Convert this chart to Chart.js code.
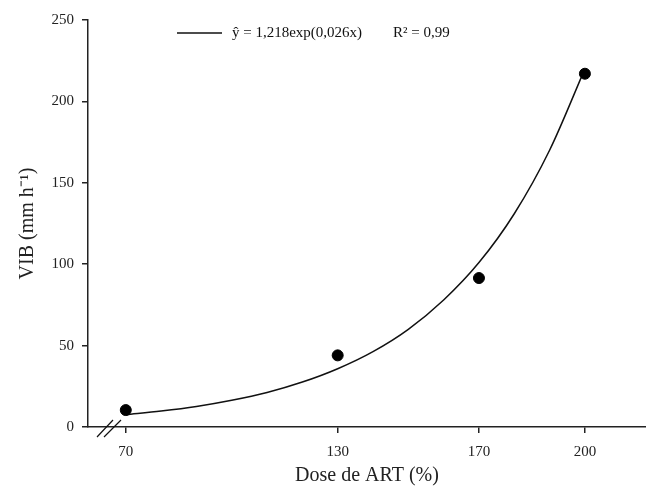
<!DOCTYPE html>
<html>
<head>
<meta charset="utf-8">
<script src="https://cdn.jsdelivr.net/npm/chart.js@4.4.1/dist/chart.umd.min.js"></script>
<style>
  html, body { margin: 0; padding: 0; background: #fff; }
  #wrap { width: 646px; height: 492px; }
</style>
</head>
<body>
<div id="wrap"><canvas id="vibChart"></canvas></div>
<script>
// observed values
const doses = [70, 130, 170, 200];
const vib = [10.4, 44, 91.5, 217];

// fitted curve
const fitX = [70, 80, 90, 100, 110, 120, 130, 140, 150, 160, 170, 180, 190, 200];
const fitY = [7.6, 9.8, 12.6, 16.4, 21.2, 27.6, 35.8, 46.3, 60, 78, 101, 131, 170, 220];

const xTicks = [70, 130, 170, 200];
const yTicks = [0, 50, 100, 150, 200, 250];

const serif = '"Liberation Serif", "Times New Roman", serif';

// legend line + equation, and the "//" axis break
const extras = {
  id: 'extras',
  afterDraw(chart) {
    const ctx = chart.ctx;
    const a = chart.chartArea;
    ctx.save();
    ctx.strokeStyle = '#111';
    ctx.lineWidth = 1.5;
    ctx.beginPath();
    ctx.moveTo(a.left + 89, 33);
    ctx.lineTo(a.left + 134, 33);
    ctx.stroke();
    ctx.fillStyle = '#111';
    ctx.font = '15px ' + serif;
    ctx.textBaseline = 'middle';
    ctx.fillText('\u0177 = 1,218exp(0,026x)', a.left + 144, 33);
    ctx.fillText('R\u00B2 = 0,99', a.left + 305, 33);

    // axis break
    const y0 = a.bottom;
    ctx.lineWidth = 1.2;
    ctx.beginPath();
    ctx.moveTo(a.left + 9, y0 + 10);
    ctx.lineTo(a.left + 25, y0 - 7);
    ctx.moveTo(a.left + 16, y0 + 10);
    ctx.lineTo(a.left + 33, y0 - 7);
    ctx.stroke();
    ctx.restore();
  }
};

new Chart(document.getElementById('vibChart').getContext('2d'), {
  type: 'scatter',
  data: {
    datasets: [
      {
        label: 'VIB',
        data: doses.map((d, i) => ({ x: d, y: vib[i] })),
        backgroundColor: '#000',
        borderColor: '#000',
        pointRadius: 5.5,
        pointHoverRadius: 5.5
      },
      {
        label: 'fit',
        data: fitX.map((d, i) => ({ x: d, y: fitY[i] })),
        showLine: true,
        borderColor: '#111',
        borderWidth: 1.5,
        pointRadius: 0,
        cubicInterpolationMode: 'monotone'
      }
    ]
  },
  options: {
    responsive: true,
    maintainAspectRatio: false,
    animation: false,
    layout: { autoPadding: false, padding: { top: 20, right: 0, left: 0, bottom: 0 } },
    plugins: {
      legend: { display: false },
      tooltip: { enabled: false }
    },
    scales: {
      x: {
        type: 'linear',
        min: 59.3,
        max: 217.3,
        afterBuildTicks: s => { s.ticks = xTicks.map(v => ({ value: v })); },
        afterFit: s => { s.height = 65; s.paddingLeft = 0; s.paddingRight = 0; },
        border: { display: true, color: '#222', width: 1.5 },
        grid: { drawOnChartArea: false, drawTicks: true, tickLength: 6, color: '#222', lineWidth: 1.5 },
        ticks: { color: '#222', padding: 10, maxRotation: 0, font: { family: serif, size: 15 } },
        title: {
          display: true,
          text: 'Dose de ART (%)',
          color: '#222',
          font: { family: serif, size: 20 },
          padding: { top: 4, bottom: 4 }
        }
      },
      y: {
        min: 0,
        max: 250,
        afterBuildTicks: s => { s.ticks = yTicks.map(v => ({ value: v })); },
        afterFit: s => { s.width = 88; },
        border: { display: true, color: '#222', width: 1.5 },
        grid: { drawOnChartArea: false, drawTicks: true, tickLength: 6, color: '#222', lineWidth: 1.5 },
        ticks: { color: '#222', padding: 8, font: { family: serif, size: 15 } },
        title: {
          display: true,
          text: 'VIB (mm h\u207B\u00B9)',
          color: '#222',
          font: { family: serif, size: 20 },
          padding: { top: 16, bottom: 4 }
        }
      }
    }
  },
  plugins: [extras]
});
</script>
</body>
</html>
